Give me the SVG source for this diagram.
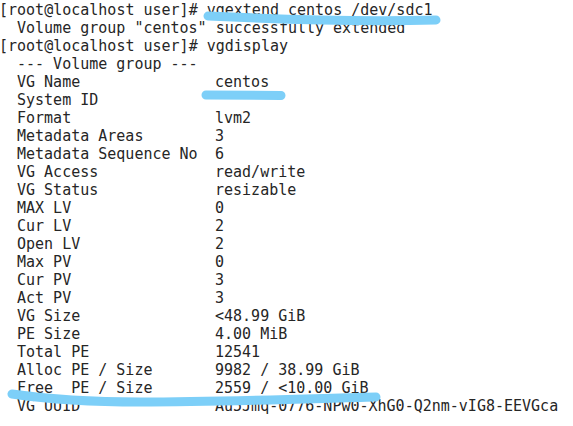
<svg xmlns="http://www.w3.org/2000/svg" width="573" height="426" viewBox="0 0 573 426">
<style>
.t{font-family:"DejaVu Sans Mono","Liberation Mono",monospace;font-size:15px;fill:#262626}
.hl{fill:none;stroke:#7dcff8;stroke-width:9;stroke-linecap:round;stroke-linejoin:round}
</style>
<rect width="573" height="426" fill="#ffffff"/>
<g id="terminal-text" class="t">
<text x="-1" y="15">[root@localhost user]# vgextend centos /dev/sdc1</text>
<text x="17" y="33">Volume group "centos" successfully extended</text>
<text x="-1" y="51">[root@localhost user]# vgdisplay</text>
<text x="17" y="69">--- Volume group ---</text>
<text x="17" y="87">VG Name</text><text x="215" y="87">centos</text>
<text x="17" y="105">System ID</text>
<text x="17" y="123">Format</text><text x="215" y="123">lvm2</text>
<text x="17" y="141">Metadata Areas</text><text x="215" y="141">3</text>
<text x="17" y="159">Metadata Sequence No</text><text x="215" y="159">6</text>
<text x="17" y="177">VG Access</text><text x="215" y="177">read/write</text>
<text x="17" y="195">VG Status</text><text x="215" y="195">resizable</text>
<text x="17" y="213">MAX LV</text><text x="215" y="213">0</text>
<text x="17" y="231">Cur LV</text><text x="215" y="231">2</text>
<text x="17" y="249">Open LV</text><text x="215" y="249">2</text>
<text x="17" y="267">Max PV</text><text x="215" y="267">0</text>
<text x="17" y="285">Cur PV</text><text x="215" y="285">3</text>
<text x="17" y="303">Act PV</text><text x="215" y="303">3</text>
<text x="17" y="321">VG Size</text><text x="215" y="321">&lt;48.99 GiB</text>
<text x="17" y="339">PE Size</text><text x="215" y="339">4.00 MiB</text>
<text x="17" y="357">Total PE</text><text x="215" y="357">12541</text>
<text x="17" y="375">Alloc PE / Size</text><text x="215" y="375">9982 / 38.99 GiB</text>
<text x="17" y="393">Free&#160;&#160;PE / Size</text><text x="215" y="393">2559 / &lt;10.00 GiB</text>
<text x="17" y="411">VG UUID</text><text x="215" y="411">Au5Jmq-0776-NPw0-XhG0-Q2nm-vIG8-EEVGca</text>
</g>
<g id="highlights">
<path class="hl" d="M208,16 C260,18.5 360,22 436,20"/>
<path class="hl" d="M206,95 L281,95.5"/>
<path class="hl" d="M12,394 C40,398 80,402 140,402 C220,402 300,399 376,397"/>
</g>
</svg>
